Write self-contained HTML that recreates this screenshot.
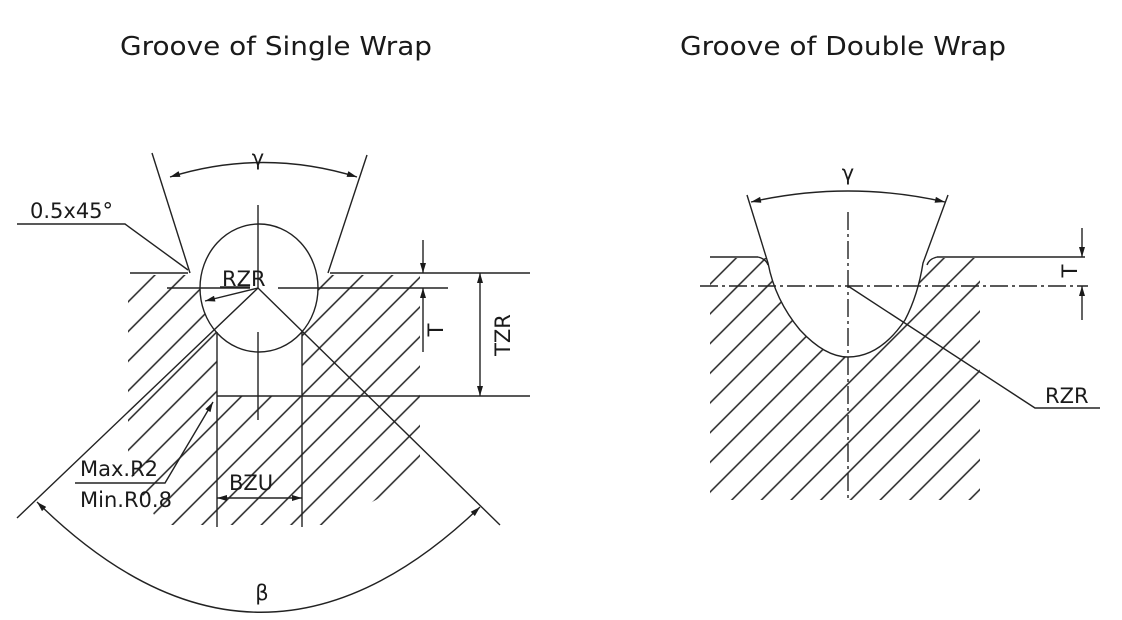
<!DOCTYPE html>
<html><head><meta charset="utf-8"><style>
html,body{margin:0;padding:0;background:#fff;}
svg{display:block;}
text{font-family:"DejaVu Sans","Liberation Sans",sans-serif;fill:#1a1a1a;}
</style></head><body>
<svg width="1122" height="620" viewBox="0 0 1122 620" xmlns="http://www.w3.org/2000/svg">
<defs>
<pattern id="h" patternUnits="userSpaceOnUse" width="21" height="21" patternTransform="rotate(-45)">
<line x1="0" y1="10" x2="21" y2="10" stroke="#222" stroke-width="1.4"/>
</pattern>
<mask id="m1">
<rect x="0" y="0" width="1122" height="620" fill="#fff"/>
<ellipse cx="259" cy="288" rx="59" ry="64" fill="#000"/>
<rect x="217" y="300" width="85" height="96" fill="#000"/>
<polygon points="160,150 190,273 330,273 370,150" fill="#000"/>
</mask>
<mask id="m2">
<rect x="0" y="0" width="1122" height="620" fill="#fff"/>
<path d="M747,195 L768,263 Q775,300 800,330 Q825,357 848,357 Q880,357 905,320 Q918,295 923,263 L948,195 Z" fill="#000"/>
</mask>
<marker id="a" viewBox="0 0 10 6" refX="10" refY="3" markerWidth="11" markerHeight="6" orient="auto-start-reverse" markerUnits="userSpaceOnUse">
<path d="M0,0 L10,3 L0,6 Z" fill="#1a1a1a"/>
</marker>
</defs>

<text x="120" y="55" font-size="26" textLength="312" lengthAdjust="spacingAndGlyphs">Groove of Single Wrap</text>
<text x="680" y="55" font-size="26" textLength="326" lengthAdjust="spacingAndGlyphs">Groove of Double Wrap</text>

<g stroke="#222" stroke-width="1.4" fill="none">
<polygon points="128,275 420,275 420,470 385,495 330,525 160,525 128,470" fill="url(#h)" stroke="none" mask="url(#m1)"/>
<line x1="130" y1="273" x2="188" y2="273"/>
<line x1="330" y1="273" x2="530" y2="273"/>
<line x1="167" y1="288" x2="250" y2="288"/>
<line x1="278" y1="288" x2="448" y2="288"/>
<line x1="152" y1="153" x2="190" y2="273"/>
<line x1="367" y1="155" x2="328" y2="273"/>
<ellipse cx="259" cy="288" rx="59" ry="64"/>
<line x1="217" y1="332" x2="217" y2="527"/>
<line x1="302" y1="332" x2="302" y2="527"/>
<line x1="217" y1="396" x2="530" y2="396"/>
<line x1="258" y1="205" x2="258" y2="288"/>
<line x1="258" y1="332" x2="258" y2="420"/>
<line x1="258" y1="288" x2="17" y2="518"/>
<line x1="258" y1="288" x2="500" y2="525"/>
<path d="M37,502 Q258,720 480,507" marker-start="url(#a)" marker-end="url(#a)"/>
<path d="M170,177 Q263,148 357,177" marker-start="url(#a)" marker-end="url(#a)"/>
<polyline points="17,224 125,224 188,270"/>
<line x1="220" y1="287" x2="250" y2="287"/>
<line x1="258" y1="288" x2="205" y2="301" marker-end="url(#a)"/>
<line x1="423" y1="240" x2="423" y2="273" marker-end="url(#a)"/>
<line x1="423" y1="352" x2="423" y2="288" marker-end="url(#a)"/>
<line x1="480" y1="273" x2="480" y2="396" marker-start="url(#a)" marker-end="url(#a)"/>
<line x1="217" y1="498" x2="302" y2="498" marker-start="url(#a)" marker-end="url(#a)"/>
<polyline points="75,483 165,483 213,402" marker-end="url(#a)"/>

<polygon points="710,258 980,258 980,500 710,500" fill="url(#h)" stroke="none" mask="url(#m2)"/>
<line x1="710" y1="257" x2="758" y2="257"/>
<line x1="937" y1="257" x2="1085" y2="257"/>
<path d="M758,257 Q766,259 768,265"/>
<path d="M937,257 Q929,259 927,265"/>
<path d="M747,195 L768,263 Q775,300 800,330 Q825,357 848,357 Q880,357 905,320 Q918,295 923,263 L948,195"/>
<line x1="700" y1="286" x2="1088" y2="286" stroke-dasharray="18,4,3,4"/>
<line x1="848" y1="212" x2="848" y2="502" stroke-dasharray="18,4,3,4"/>
<path d="M751,202 Q848,180 945,202" marker-start="url(#a)" marker-end="url(#a)"/>
<polyline points="848,286 1035,408 1100,408"/>
<line x1="1082" y1="228" x2="1082" y2="257" marker-end="url(#a)"/>
<line x1="1082" y1="320" x2="1082" y2="286" marker-end="url(#a)"/>
</g>

<g font-size="21">
<text x="258" y="165" text-anchor="middle">γ</text>
<text x="30" y="218">0.5x45°</text>
<text x="222" y="286">RZR</text>
<text x="80" y="476">Max.R2</text>
<text x="80" y="507">Min.R0.8</text>
<text x="229" y="490">BZU</text>
<text x="262" y="600" text-anchor="middle">β</text>
<text transform="translate(443,330) rotate(-90)" text-anchor="middle">T</text>
<text transform="translate(510,335) rotate(-90)" text-anchor="middle">TZR</text>
<text x="848" y="180" text-anchor="middle">γ</text>
<text x="1045" y="403">RZR</text>
<text transform="translate(1077,271) rotate(-90)" text-anchor="middle">T</text>
</g>
</svg>
</body></html>
